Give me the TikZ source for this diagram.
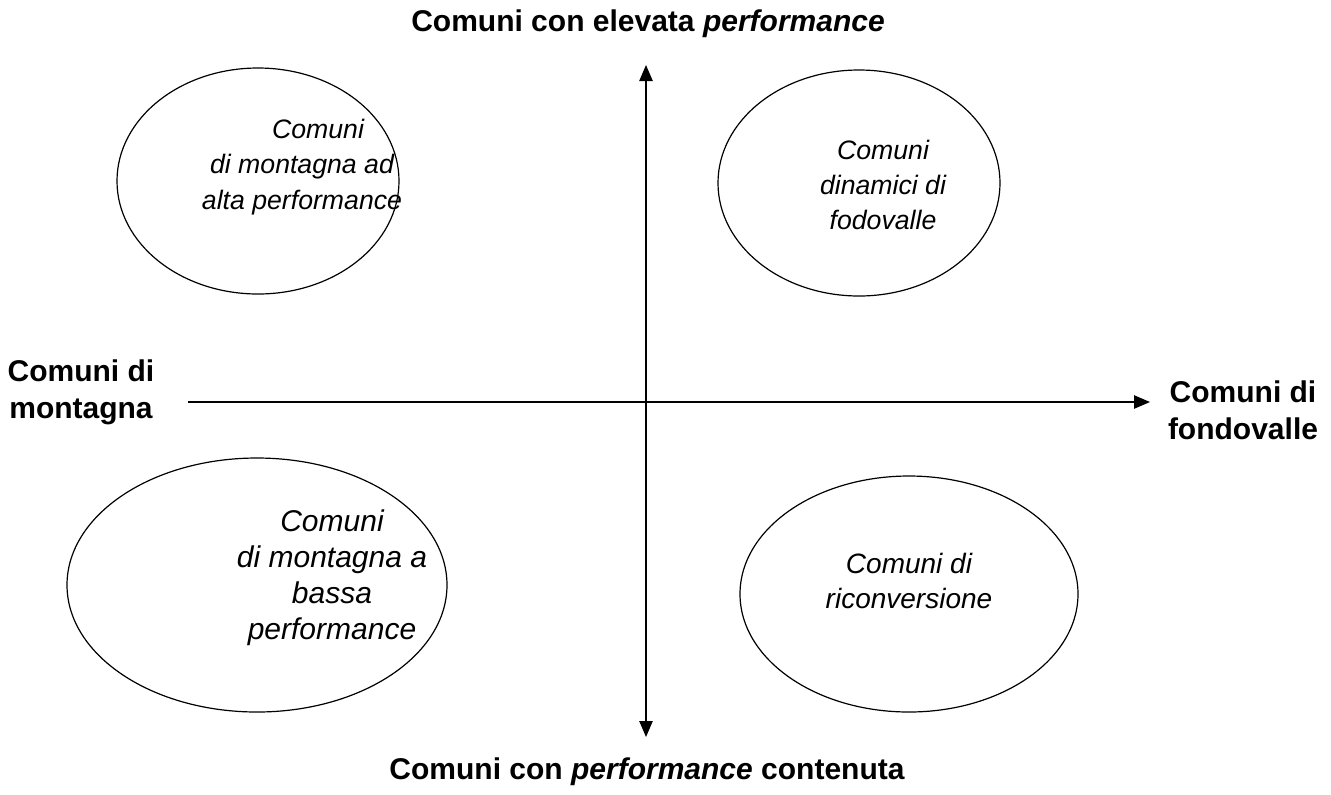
\documentclass[tikz,border=0pt]{standalone}
\usepackage{fontspec}
\setmainfont{Liberation Sans}
\usetikzlibrary{arrows.meta}
\begin{document}
\begin{tikzpicture}[x=0.75pt,y=-0.75pt,
  oval/.style={draw,line width=0.9pt},
  lbl/.style={font=\fontsize{22.5}{27.5}\selectfont\bfseries,align=center,inner sep=0pt},
  itl/.style={font=\fontsize{20}{26.5}\selectfont\itshape,align=center,inner sep=0pt},
  itlbig/.style={font=\fontsize{22.5}{27}\selectfont\itshape,align=center,inner sep=0pt},
  axis/.style={line width=1.1pt}]
\useasboundingbox (0,0) rectangle (1331,794);
\draw[oval] (258,181) ellipse [x radius=141,y radius=113];
\draw[oval] (859,183) ellipse [x radius=141,y radius=113];
\draw[oval] (257,585) ellipse [x radius=190,y radius=127];
\draw[oval] (909,594) ellipse [x radius=169,y radius=118];
\coordinate (vt) at (646,65);
\coordinate (vb) at (646,737);
\coordinate (hl) at (188,402);
\coordinate (hr) at (1150,402);
\draw[axis,{Triangle[length=12pt,width=10pt]}-{Triangle[length=12pt,width=10pt]}] (vb) -- (vt);
\draw[axis,-{Triangle[length=12pt,width=10pt]}] (hl) -- (hr);
\node[lbl] (top) at (648,24) {Comuni con elevata \textit{performance}};
\node[lbl] (bot) at (647,772) {Comuni con \textit{performance} contenuta};
\node[lbl] (lft) at (81,392) {Comuni di\\montagna};
\node[lbl] (rgt) at (1243,410) {Comuni di\\fondovalle};
\node[itl] (q1) at (302,167) {\hspace*{1.2em}Comuni\\di montagna ad\\alta performance};
\node[itl] (q2) at (883,185) {Comuni\\dinamici di\\fodovalle};
\node[itlbig] (q3) at (332,578) {Comuni\\di montagna a\\bassa\\performance};
\node[itl,font=\fontsize{21}{26.5}\selectfont\itshape] (q4) at (909,581) {Comuni di\\riconversione};
\end{tikzpicture}
\end{document}
